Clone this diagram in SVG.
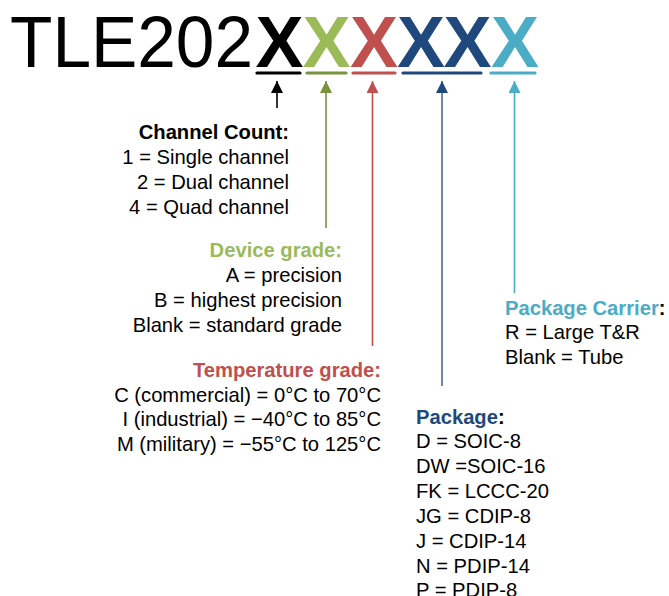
<svg xmlns="http://www.w3.org/2000/svg" width="669" height="596" viewBox="0 0 669 596">
<style>
text{font-family:"Liberation Sans",Arial,sans-serif;fill:#000}
.big{font-size:72px}
.bx{font-size:72px;font-weight:bold;text-anchor:middle}
.t{font-size:20.2px}
.h{font-size:20.2px;font-weight:bold}
.r{text-anchor:end}
.ul{stroke-width:3.2;stroke-linecap:round;fill:none}
.ln{stroke-width:1.6;fill:none}
</style>
<defs>
<marker id="aK" viewBox="0 0 12 12" refX="0" refY="6" markerWidth="12" markerHeight="12" markerUnits="userSpaceOnUse" orient="auto"><path d="M0,6 L12,0 L12,12 Z" fill="#000"/></marker>
<marker id="aG" viewBox="0 0 12 12" refX="0" refY="6" markerWidth="12" markerHeight="12" markerUnits="userSpaceOnUse" orient="auto"><path d="M0,6 L12,0 L12,12 Z" fill="#77933C"/></marker>
<marker id="aR" viewBox="0 0 12 12" refX="0" refY="6" markerWidth="12" markerHeight="12" markerUnits="userSpaceOnUse" orient="auto"><path d="M0,6 L12,0 L12,12 Z" fill="#C0504D"/></marker>
<marker id="aB" viewBox="0 0 12 12" refX="0" refY="6" markerWidth="12" markerHeight="12" markerUnits="userSpaceOnUse" orient="auto"><path d="M0,6 L12,0 L12,12 Z" fill="#1F497D"/></marker>
<marker id="aC" viewBox="0 0 12 12" refX="0" refY="6" markerWidth="12" markerHeight="12" markerUnits="userSpaceOnUse" orient="auto"><path d="M0,6 L12,0 L12,12 Z" fill="#4BACC6"/></marker>
</defs>
<g id="title">
<text class="big" x="10" y="67" textLength="243" lengthAdjust="spacingAndGlyphs">TLE202</text>
<text class="bx" x="279.5" y="67">X</text>
<text class="bx" x="326.5" y="67" style="fill:#9BBB59">X</text>
<text class="bx" x="374" y="67" style="fill:#C0504D">X</text>
<text class="bx" x="421" y="67" style="fill:#1F497D">X</text>
<text class="bx" x="467.5" y="67" style="fill:#1F497D">X</text>
<text class="bx" x="515" y="67" style="fill:#4BACC6">X</text>
<line class="ul" x1="257" y1="73" x2="300" y2="73" stroke="#000"/>
<line class="ul" x1="307" y1="73" x2="346" y2="73" stroke="#77933C"/>
<line class="ul" x1="353" y1="73" x2="395" y2="73" stroke="#C0504D"/>
<line class="ul" x1="403" y1="73" x2="481" y2="73" stroke="#1F497D"/>
<line class="ul" x1="491" y1="73" x2="535" y2="73" stroke="#4BACC6"/>
</g>
<g id="connectors">
<path class="ln" d="M277,81 V108" stroke="#000" marker-start="url(#aK)"/>
<path class="ln" d="M326,81 V228" stroke="#77933C" marker-start="url(#aG)"/>
<path class="ln" d="M372.5,81 V346" stroke="#C0504D" marker-start="url(#aR)"/>
<path class="ln" d="M442,81 V386" stroke="#4F6B9A" marker-start="url(#aB)"/>
<path class="ln" d="M514.5,81 V293" stroke="#4BACC6" marker-start="url(#aC)"/>
</g>
<g id="channel-count">
<text class="h r" x="289" y="139">Channel Count:</text>
<text class="t r" x="289" y="164">1 = Single channel</text>
<text class="t r" x="289" y="189">2 = Dual channel</text>
<text class="t r" x="289" y="214">4 = Quad channel</text>
</g>
<g id="device-grade">
<text class="h r" x="342" y="257" style="fill:#9BBB59">Device grade:</text>
<text class="t r" x="342" y="282">A = precision</text>
<text class="t r" x="342" y="307">B = highest precision</text>
<text class="t r" x="342" y="332">Blank = standard grade</text>
</g>
<g id="temperature-grade">
<text class="h r" x="381" y="377" style="fill:#C0504D">Temperature grade:</text>
<text class="t r" x="381" y="402">C (commercial) = 0°C to 70°C</text>
<text class="t r" x="381" y="426">I (industrial) = −40°C to 85°C</text>
<text class="t r" x="381" y="451">M (military) = −55°C to 125°C</text>
</g>
<g id="package-carrier">
<text class="h" x="505" y="315"><tspan style="fill:#4BACC6">Package Carrier</tspan>:</text>
<text class="t" x="505" y="339">R = Large T&amp;R</text>
<text class="t" x="505" y="364">Blank = Tube</text>
</g>
<g id="package">
<text class="h" x="416" y="424"><tspan style="fill:#1F497D">Package</tspan>:</text>
<text class="t" x="416" y="448">D = SOIC-8</text>
<text class="t" x="416" y="473">DW =SOIC-16</text>
<text class="t" x="416" y="498">FK = LCCC-20</text>
<text class="t" x="416" y="523">JG = CDIP-8</text>
<text class="t" x="416" y="548">J = CDIP-14</text>
<text class="t" x="416" y="573">N = PDIP-14</text>
<text class="t" x="416" y="597">P = PDIP-8</text>
</g>
</svg>
